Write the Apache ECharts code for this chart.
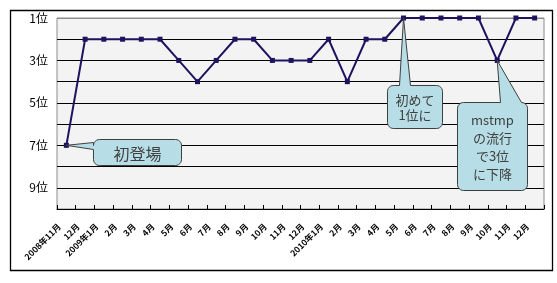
<!DOCTYPE html>
<html>
<head>
<meta charset="utf-8">
<script src="https://cdn.jsdelivr.net/npm/echarts@6/dist/echarts.min.js"></script>
<style>
  html, body { margin: 0; padding: 0; background: #fff; }
  #chart { width: 557px; height: 283px; }
</style>
</head>
<body>
<div id="chart"></div>
<script>
// Monthly ranking history
const months = [
  '2008年11月', '12月',
  '2009年1月', '2月', '3月', '4月', '5月', '6月', '7月', '8月', '9月', '10月', '11月', '12月',
  '2010年1月', '2月', '3月', '4月', '5月', '6月', '7月', '8月', '9月', '10月', '11月', '12月'
];
const ranks = [
  7, 2,
  2, 2, 2, 2, 3, 4, 3, 2, 2, 3, 3, 3,
  2, 4, 2, 2, 1, 1, 1, 1, 1, 3, 1, 1
];
const rankTicks = [1, 3, 5, 7, 9];

// Speech-bubble notes attached to points of the series
const notes = [
  { index: 0,  lines: ['初登場'], fontSize: 16, lineHeight: 18,
    box: { dx: 27, dy: -6, w: 88, h: 26 }, side: 'left', base: [3, 10] },
  { index: 18, lines: ['初めて', '1位に'], fontSize: 13, lineHeight: 15,
    box: { dx: -17, dy: 67, w: 55, h: 43 }, side: 'top', base: [12, 23] },
  { index: 23, lines: ['mstmp', 'の流行', 'で3位', 'に下降'], fontSize: 13, lineHeight: 18,
    box: { dx: -40, dy: 42, w: 70, h: 88 }, side: 'top', base: [43, 64] }
];

const FONT = '"Noto Sans CJK JP", "Noto Sans", sans-serif';
const chart = echarts.init(document.getElementById('chart'), null, { renderer: 'canvas' });

chart.setOption({
  animation: false,
  backgroundColor: '#fff',
  grid: {
    left: 57, top: 18, right: 13, bottom: 74,
    show: true, backgroundColor: '#f3f3f3', borderColor: '#8c8c8c', borderWidth: 1
  },
  xAxis: {
    type: 'category',
    data: months,
    boundaryGap: true,
    axisLine: { lineStyle: { color: '#000', width: 1 } },
    axisTick: { show: true, inside: true, length: 4, interval: 0, lineStyle: { color: '#000' } },
    axisLabel: {
      interval: 0, rotate: 45, margin: 9, padding: [0, 10, 0, 0],
      fontSize: 8.5, fontWeight: 'bold', color: '#000', fontFamily: FONT
    },
    splitLine: { show: false }
  },
  yAxis: {
    type: 'value',
    inverse: true,
    min: 1, max: 10, interval: 1,
    axisLine: { show: false },
    axisTick: { show: false },
    axisLabel: {
      margin: 9, fontSize: 12, color: '#000', fontFamily: FONT,
      formatter: v => rankTicks.includes(v) ? v + '位' : ''
    },
    splitLine: {
      show: true,
      lineStyle: { color: ['#8c8c8c', '#000', '#000', '#000', '#000', '#000', '#000', '#000', '#000', '#000'], width: 1 }
    }
  },
  series: [{
    type: 'line',
    data: ranks,
    symbol: 'rect',
    symbolSize: 5,
    lineStyle: { color: '#1e145e', width: 2 },
    itemStyle: { color: '#1e145e' },
    z: 3
  }]
});

// Rounded box outline with a wedge pointing at (tx, ty)
function bubblePoints(x, y, w, h, r, side, a, b, tx, ty) {
  const pts = [];
  const arc = (cx, cy, from, to) => {
    const n = 6;
    for (let i = 0; i <= n; i++) {
      const t = from + (to - from) * i / n;
      pts.push([cx + r * Math.cos(t), cy + r * Math.sin(t)]);
    }
  };
  const P = Math.PI;
  arc(x + r, y + r, P, 1.5 * P);
  if (side === 'top') { pts.push([x + a, y], [tx, ty], [x + b, y]); }
  arc(x + w - r, y + r, 1.5 * P, 2 * P);
  if (side === 'right') { pts.push([x + w, y + a], [tx, ty], [x + w, y + b]); }
  arc(x + w - r, y + h - r, 0, 0.5 * P);
  if (side === 'bottom') { pts.push([x + b, y + h], [tx, ty], [x + a, y + h]); }
  arc(x + r, y + h - r, 0.5 * P, P);
  if (side === 'left') { pts.push([x, y + b], [tx, ty], [x, y + a]); }
  return pts;
}

const graphics = [{
  type: 'rect',
  shape: { x: 10.5, y: 10.5, width: 542, height: 260 },
  style: { fill: 'none', stroke: '#000', lineWidth: 1.3 },
  z: 1, silent: true
}];

notes.forEach(n => {
  const [px, py] = chart.convertToPixel({ seriesIndex: 0 }, [n.index, ranks[n.index]]);
  const bx = Math.round(px + n.box.dx) + 0.5;
  const by = Math.round(py + n.box.dy) + 0.5;
  graphics.push({
    type: 'polygon',
    shape: { points: bubblePoints(bx, by, n.box.w, n.box.h, 6, n.side, n.base[0], n.base[1], px, py) },
    style: { fill: '#b7dde6', stroke: '#3f3f3f', lineWidth: 1 },
    z: 10, silent: true
  });
  graphics.push({
    type: 'text',
    x: bx + n.box.w / 2,
    y: by + n.box.h / 2 + 1,
    style: {
      text: n.lines.join('\n'),
      fill: '#404040',
      font: n.fontSize + 'px ' + FONT,
      lineHeight: n.lineHeight,
      align: 'center',
      verticalAlign: 'middle'
    },
    z: 11, silent: true
  });
});

chart.setOption({ graphic: graphics });
</script>
</body>
</html>
